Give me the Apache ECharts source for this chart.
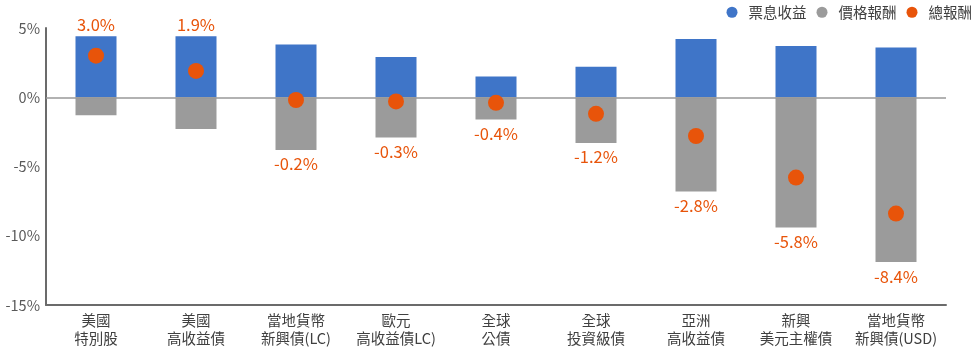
<!DOCTYPE html>
<html>
<head>
<meta charset="utf-8">
<script src="https://cdn.jsdelivr.net/npm/echarts@6/dist/echarts.min.js"></script>
<style>
html,body{margin:0;padding:0;background:#fff;}
#chart{width:975px;height:348px;}
</style>
</head>
<body>
<div id="chart"></div>
<script>
const categories = ['美國\n特別股','美國\n高收益債','當地貨幣\n新興債(LC)','歐元\n高收益債LC)','全球\n公債','全球\n投資級債','亞洲\n高收益債','新興\n美元主權債','當地貨幣\n新興債(USD)'];
const couponIncome = [4.4, 4.4, 3.8, 2.9, 1.5, 2.2, 4.2, 3.7, 3.6];
const priceReturn = [-1.3, -2.3, -3.8, -2.9, -1.6, -3.3, -6.8, -9.4, -11.9];
const totalReturn = [3.0, 1.9, -0.2, -0.3, -0.4, -1.2, -2.8, -5.8, -8.4];
const yTicks = [-15, -10, -5, 0, 5];

const FONT = '"Noto Sans CJK TC", "Noto Sans", sans-serif';
const BLUE = '#3F75C8', GRAY = '#9B9B9B', ORANGE = '#E8540A';

const labelStyle = {
  color: ORANGE, fontSize: 16.5, fontFamily: FONT
};

const chart = echarts.init(document.getElementById('chart'));
chart.setOption({
  animation: false,
  textStyle: { fontFamily: FONT },
  legend: {
    right: 3, top: 0, padding: [5, 0, 5, 5],
    icon: 'circle', itemWidth: 11, itemHeight: 11, itemGap: 10,
    textStyle: { fontSize: 14.5, color: '#404040', fontFamily: FONT, padding: [0, 0, 0, 6] },
    data: ['票息收益', '價格報酬', '總報酬']
  },
  grid: { left: 46, right: 29, top: 28, bottom: 42 },
  xAxis: {
    type: 'category',
    data: categories,
    axisLine: { onZero: false, lineStyle: { color: '#6B6B6B', width: 2 } },
    axisTick: { show: false },
    axisLabel: { color: '#404040', fontSize: 14.5, lineHeight: 18.5, margin: 6, fontFamily: FONT, interval: 0 }
  },
  yAxis: {
    type: 'value', min: yTicks[0], max: yTicks[yTicks.length - 1], interval: 5,
    axisLine: { show: true, lineStyle: { color: '#6B6B6B', width: 2 } },
    axisTick: { show: false },
    splitLine: { show: false },
    axisLabel: { formatter: '{value}%', color: '#595959', fontSize: 14.5, margin: 6, fontFamily: FONT }
  },
  series: [
    {
      name: '票息收益', type: 'bar', stack: 'a', barWidth: 41,
      itemStyle: { color: BLUE },
      data: couponIncome.map((v, i) => ({
        value: v,
        label: totalReturn[i] > 0 ? Object.assign({ show: true, position: 'top', distance: 3, formatter: totalReturn[i].toFixed(1) + '%' }, labelStyle) : { show: false }
      }))
    },
    {
      name: '價格報酬', type: 'bar', stack: 'a', barWidth: 41,
      itemStyle: { color: GRAY },
      data: priceReturn.map((v, i) => ({
        value: v,
        label: totalReturn[i] <= 0 ? Object.assign({ show: true, position: 'bottom', distance: 6, formatter: totalReturn[i].toFixed(1) + '%' }, labelStyle) : { show: false }
      }))
    },
    {
      name: '總報酬', type: 'scatter', symbolSize: 16,
      itemStyle: { color: ORANGE, opacity: 1 },
      z: 5,
      data: totalReturn,
      markLine: {
        silent: true, symbol: 'none', label: { show: false },
        lineStyle: { color: '#999999', width: 1.5, type: 'solid' },
        data: [{ yAxis: 0 }]
      }
    }
  ]
});
</script>
</body>
</html>
